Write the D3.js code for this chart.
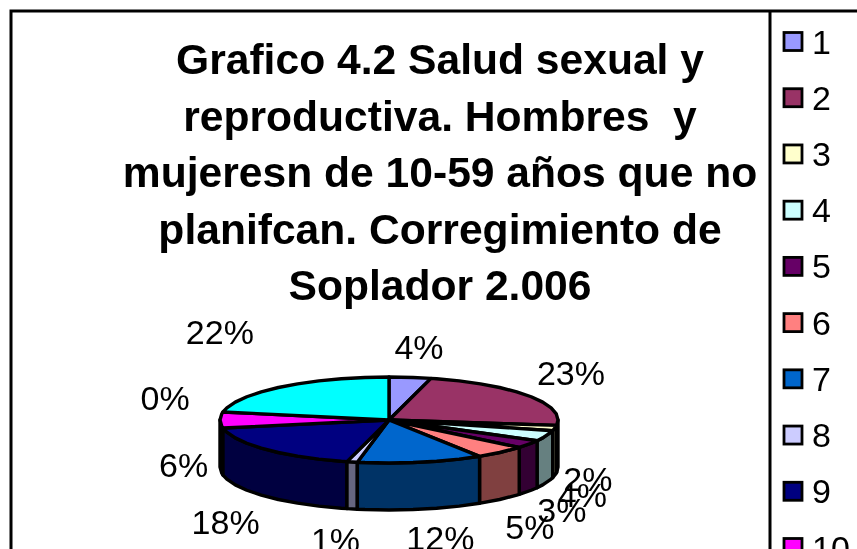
<!DOCTYPE html>
<html><head><meta charset="utf-8">
<script src="https://cdn.jsdelivr.net/npm/d3@7"></script>
<style>html,body{margin:0;padding:0;background:#fff;overflow:hidden}svg{display:block;filter:blur(0.45px)}text{font-family:"Liberation Sans",Arial,sans-serif;fill:#000}</style>
</head><body><svg id="c" width="857" height="549"></svg>
<script>
const categories=["1","2","3","4","5","6","7","8","9","10","11","12"];
const values=[4,23,2,4,3,5,12,1,18,6,0,22];
const colors=["#9999FF","#993366","#FFFFCC","#CCFFFF","#660066","#FF8080","#0066CC","#CCCCFF","#000080","#FF00FF","#FFFF00","#00FFFF"];
const titleLines=["Grafico 4.2 Salud sexual y","reproductiva. Hombres  y","mujeresn de 10-59 años que no","planifcan. Corregimiento de","Soplador 2.006"];
const labelNudge=[[5,-23],[17,-18],[3,3],[8,9],[8,15],[9,22],[14,21],[-10,24],[-18,20],[-6,45],[-28,-12],[-42,-49]];

const W=857,H=549,svg=d3.select("#c");
const cx=389,cy=420,rx=169,ry=43,depth=47,SW=3.4;
const FS=34;

// frame
svg.append("path").attr("d",`M11,549V11H857`).attr("fill","none").attr("stroke","#000").attr("stroke-width",3);
svg.append("line").attr("x1",770).attr("x2",770).attr("y1",11).attr("y2",549).attr("stroke","#000").attr("stroke-width",3);

// title
const titleY=d3.scaleLinear().domain([0,4]).range([74,300]);
svg.append("g").selectAll("text").data(titleLines).join("text")
  .attr("x",440).attr("y",(d,i)=>titleY(i)).attr("text-anchor","middle")
  .attr("font-size",42.6).attr("font-weight","bold").style("white-space","pre").attr("xml:space","preserve").text(d=>d);

// pie
const arcs=d3.pie().sort(null).startAngle(0).endAngle(2*Math.PI)(values);
const sx=d3.scaleLinear().domain([-1,1]).range([cx-rx,cx+rx]);
const sy=d3.scaleLinear().domain([-1,1]).range([cy-ry,cy+ry]);
const P=(a,r=1)=>[sx(r*Math.sin(a)),sy(-r*Math.cos(a))];
const line=d3.line();
const STEP=Math.PI/22;
function rim(a0,a1){
  const pts=[a0];
  for(let k=Math.ceil(a0/STEP+1e-6);k*STEP<a1-1e-6;k++)pts.push(k*STEP);
  pts.push(a1);return pts;
}
const dark=c=>{const q=d3.rgb(c);return d3.rgb(q.r/2,q.g/2,q.b/2).formatHex();};
const HP=Math.PI/2,TP=3*Math.PI/2;
const walls=svg.append("g"),tops=svg.append("g");
const wallData=arcs.map((d,i)=>({i,a0:Math.max(d.startAngle,HP),a1:Math.min(d.endAngle,TP)})).filter(d=>d.a1>d.a0+1e-6);
wallData.sort((a,b)=>Math.abs((b.a0+b.a1)/2-Math.PI)-Math.abs((a.a0+a.a1)/2-Math.PI));
walls.selectAll("path").data(wallData).join("path")
  .attr("d",d=>{
    const a=rim(d.a0,d.a1).map(t=>P(t));
    const b=a.slice().reverse().map(p=>[p[0],p[1]+depth]);
    return line(a.concat(b))+"Z";})
  .attr("fill",d=>dark(colors[d.i])).attr("stroke","#000").attr("stroke-width",SW).attr("stroke-linejoin","round");
tops.selectAll("path").data(arcs.map((d,i)=>({...d,i})).filter(d=>d.value>0)).join("path")
  .attr("d",d=>line([[cx,cy]].concat(rim(d.startAngle,d.endAngle).map(t=>P(t))))+"Z")
  .attr("fill",d=>colors[d.i]).attr("stroke","#000").attr("stroke-width",SW).attr("stroke-linejoin","round");

// labels
svg.append("g").selectAll("text").data(arcs).join("text")
  .attr("x",(d,i)=>P((d.startAngle+d.endAngle)/2,1.18)[0]+labelNudge[i][0])
  .attr("y",(d,i)=>{const m=(d.startAngle+d.endAngle)/2;return P(m,1.18)[1]+(Math.cos(m)<-1e-6?depth:0)+labelNudge[i][1];})
  .attr("dy","0.35em").attr("text-anchor","middle").attr("font-size",FS)
  .text(d=>d.value+"%");

// legend
const ly=d3.scaleLinear().domain([0,9]).range([42,548]);
const lg=svg.append("g").selectAll("g").data(categories).join("g").attr("transform",(d,i)=>`translate(0,${ly(i)})`);
lg.append("rect").attr("x",784).attr("y",-9.5).attr("width",18).attr("height",18)
  .attr("fill",(d,i)=>colors[i]).attr("stroke","#000").attr("stroke-width",2.8);
lg.append("text").attr("x",812).attr("y",11.5).attr("font-size",FS).text(d=>d);
</script></body></html>
